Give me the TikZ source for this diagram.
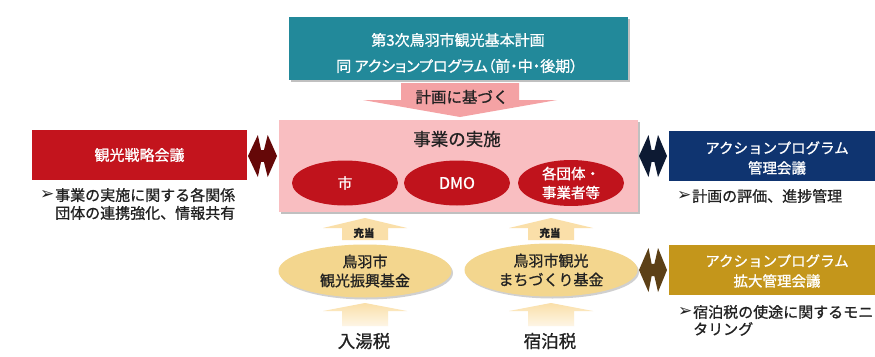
\documentclass[tikz,border=0pt]{standalone}
\usepackage{fontspec}
\setmainfont{Noto Sans CJK JP}[FakeBold=0.9]
\newfontfamily\jpp{Noto Sans CJK JP}[FakeBold=0.9,RawFeature=+palt]
\newfontfamily\dv{DejaVu Sans}
\usetikzlibrary{shadows,shapes.geometric}
\definecolor{teal1}{HTML}{22899A}
\definecolor{pinkarrow}{HTML}{F4A2A4}
\definecolor{pinkbox}{HTML}{F9BEC1}
\definecolor{red1}{HTML}{C3141D}
\definecolor{redell}{HTML}{C0131C}
\definecolor{navy1}{HTML}{0F3470}
\definecolor{gold1}{HTML}{C4961B}
\definecolor{fund}{HTML}{F3D68E}
\definecolor{uparrow}{HTML}{FADFA9}
\definecolor{darkred}{HTML}{650808}
\definecolor{darknavy}{HTML}{0D1A33}
\definecolor{brown1}{HTML}{5C4016}
\definecolor{txt}{HTML}{222222}
\tikzset{
  wt/.style={text=white, font=\fontsize{15}{18}\selectfont, inner sep=0pt, align=center},
  bk/.style={text=txt, font=\fontsize{15}{18}\selectfont, inner sep=0pt, align=center},
  bullet/.style={text=txt, font=\fontsize{15}{18}\selectfont, inner sep=0pt, anchor=west},
  bmark/.style={text=txt, font=\dv\fontsize{17}{18}\selectfont, inner sep=0pt, anchor=west},
  sh/.style={drop shadow={shadow xshift=2pt, shadow yshift=-2pt, opacity=0.35, fill=black!70}},
  redell/.style={ellipse, fill=redell, minimum width=106pt, minimum height=45pt, inner sep=0pt, text=white, align=center, font=\fontsize{14.5}{19}\selectfont},
  fundell/.style={ellipse, fill=fund, minimum width=173pt, minimum height=53pt, inner sep=0pt, text=txt, align=center, font=\fontsize{15}{19}\selectfont, drop shadow={shadow xshift=1.5pt, shadow yshift=-2pt, opacity=0.3, fill=black!60}},
}
% double arrow: #1 left x, #2 right x, #3 top y, #4 bottom y, #5 colour
\newcommand\dblarr[5]{%
  \pgfmathsetmacro\dw{#2-#1}%
  \pgfmathsetmacro\ym{(#3+#4)/2}%
  \pgfmathsetmacro\hs{0.14*(#4-#3)}%
  \fill[#5] (#1,\ym) -- ({#1+0.34*\dw},#3) -- ({#1+0.45*\dw},{\ym-\hs}) -- ({#2-0.45*\dw},{\ym-\hs}) -- ({#2-0.32*\dw},#3) -- (#2,\ym)
   -- ({#2-0.32*\dw},#4) -- ({#2-0.45*\dw},{\ym+\hs}) -- ({#1+0.45*\dw},{\ym+\hs}) -- ({#1+0.34*\dw},#4) -- cycle;}
% up arrow: #1 centre x, #2 tip y, #3 head base y, #4 bottom y, #5 colour
\newcommand\uparr[5]{%
  \fill[#5] (#1,#2) -- ({#1+42},#3) -- ({#1+23},#3) -- ({#1+23},#4) -- ({#1-23},#4) -- ({#1-23},#3) -- ({#1-42},#3) -- cycle;}
\begin{document}
\begin{tikzpicture}[x=1pt,y=-1pt]
\useasboundingbox[fill=white] (0,0) rectangle (875,356);

% top plan box
\node[fill=teal1, minimum width=339pt, minimum height=63pt, inner sep=0pt, sh] (plan) at (458.5,48.5) {};
\node[wt] (plan1) at (458,40) {第3次鳥羽市観光基本計画};
\node[wt, font=\jpp\fontsize{15}{18}\selectfont] (plan2) at (457,66) {同 アクションプログラム（前・中・後期）};

% pink down arrow
\fill[pinkarrow] (401,83) -- (519,83) -- (519,100) -- (557,100) -- (460,117) -- (363,100) -- (401,100) -- cycle;
\node[bk, font=\fontsize{15.5}{18}\selectfont] (base) at (462,97) {計画に基づく};

% main box
\node[fill=pinkbox, minimum width=359pt, minimum height=92pt, inner sep=0pt, sh] (main) at (458.5,166) {};
\node[bk, font=\fontsize{17.5}{20}\selectfont] (maint) at (457,139) {事業の実施};
\node[redell] (city) at (345,183) {市};
\node[redell, font=\fontsize{16}{19}\selectfont] (dmo) at (457,183) {DMO};
\node[redell] (grp) at (571,183) {各団体・\\事業者等};

% left box
\node[fill=red1, minimum width=215pt, minimum height=50pt, inner sep=0pt] (strat) at (139.5,155) {};
\node[wt] (stratt) at (139.5,155) {観光戦略会議};
\node[bmark] (sm1) at (40,195) {➢};
\node[bullet] (sb1) at (55,195) {事業の実施に関する各関係};
\node[bullet] (sb2) at (55,213) {団体の連携強化、情報共有};
\dblarr{248}{277}{135}{177}{darkred}

% right navy box
\node[fill=navy1, minimum width=207pt, minimum height=50pt, inner sep=0pt] (mgmt) at (772.5,156) {};
\node[wt, font=\fontsize{14.5}{20}\selectfont] (mgmtt) at (777,158) {アクションプログラム\\管理会議};
\node[bmark] (mm1) at (677,196) {➢};
\node[bullet] (mb1) at (692,196) {計画の評価、進捗管理};
\dblarr{639}{667}{135}{177}{darknavy}

% right gold box
\node[fill=gold1, minimum width=207pt, minimum height=50pt, inner sep=0pt] (ext) at (772.5,270) {};
\node[wt, font=\fontsize{14.5}{20}\selectfont] (extt) at (777,271) {アクションプログラム\\拡大管理会議};
\node[bmark] (em1) at (678,312) {➢};
\node[bullet] (eb1) at (693,312) {宿泊税の使途に関するモニ};
\node[bullet] (eb2) at (693,329) {タリング};
\dblarr{639}{667}{248}{292}{brown1}

% up arrows
\uparr{365}{218}{228}{240}{uparrow}
\uparr{551}{218}{228}{240}{uparrow}
\node[bk, font=\bfseries\fontsize{10.5}{12}\selectfont] (j1) at (364,233) {充当};
\node[bk, font=\bfseries\fontsize{10.5}{12}\selectfont] (j2) at (550,233) {充当};

% funds
\node[fundell] (f1) at (365,271) {鳥羽市\\観光振興基金};
\node[fundell] (f2) at (551,270) {鳥羽市観光\\まちづくり基金};

% lower arrows
\shade[top color=uparrow, bottom color=uparrow!30] (365,303) -- (407,311) -- (388,311) -- (388,326) -- (342,326) -- (342,311) -- (323,311) -- cycle;
\shade[top color=uparrow, bottom color=uparrow!30] (551,303) -- (593,311) -- (574,311) -- (574,326) -- (528,326) -- (528,311) -- (509,311) -- cycle;
\node[bk, font=\fontsize{17.5}{20}\selectfont] (tax1) at (364,341) {入湯税};
\node[bk, font=\fontsize{17.5}{20}\selectfont] (tax2) at (550,341) {宿泊税};
\end{tikzpicture}
\end{document}
